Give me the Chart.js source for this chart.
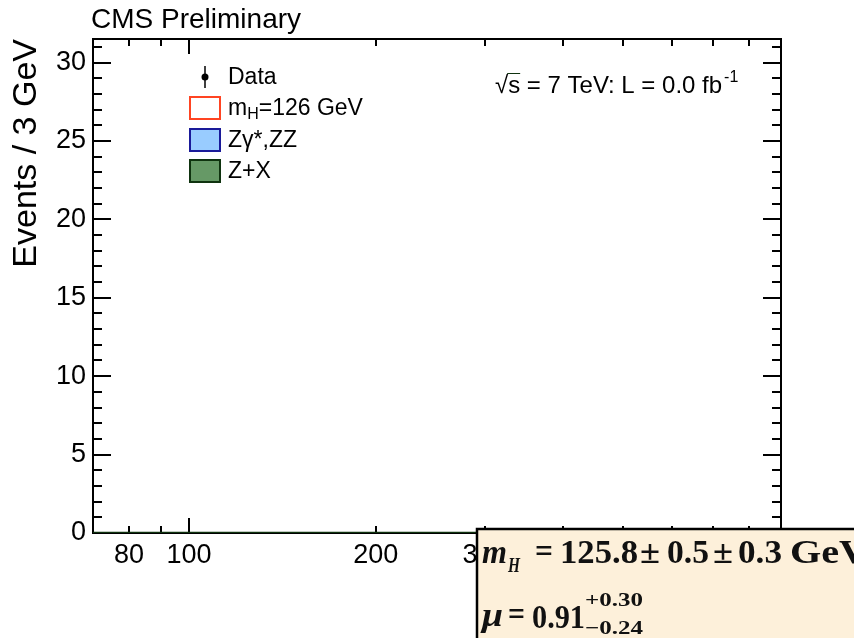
<!DOCTYPE html>
<html>
<head>
<meta charset="utf-8">
<script src="https://cdn.jsdelivr.net/npm/chart.js@4.4.1/dist/chart.umd.min.js"></script>
<style>
  html, body { margin: 0; padding: 0; background: #ffffff; }
  #wrap { width: 854px; height: 638px; }
</style>
</head>
<body>
<div id="wrap"><canvas id="chart" width="854" height="638"></canvas></div>
<script>
// m4l range and ticks (GeV)
const xRange = [70, 900];
const xTickValues = [80, 90, 100, 200, 300, 400, 500, 600, 700, 800, 900];
const xMajorTicks = [100];
const xLabelValues = [80, 100, 200, 300];

// Events / 3 GeV
const yRange = [0, 31.5];
const yTickValues = [0, 5, 10, 15, 20, 25, 30];

// series (L = 0.0 fb-1 -> no events anywhere)
const dataMass = [];
const dataEvents = [];
const signalMass = [];
const signalEvents = [];
const zzMass = [];
const zzEvents = [];
const zxMass = [70, 900];
const zxEvents = [0, 0];

const legendLabels = ['Data', 'm_H=126 GeV', 'Z\u03b3*,ZZ', 'Z+X'];

const SANS = '"Liberation Sans", Arial, sans-serif';
const SERIF = '"Liberation Serif", "Times New Roman", serif';

function toPoints(xs, ys) {
    return xs.map((x, i) => ({ x: x, y: ys[i] }));
}

// texte avec largeur imposee (le cadre du resultat est etire)
function fitText(ctx, text, x, y, width, font) {
    ctx.save();
    ctx.font = font;
    const w = ctx.measureText(text).width;
    ctx.translate(x, y);
    ctx.scale(width / w, 1);
    ctx.fillText(text, 0, 0);
    ctx.restore();
}

// cadre, ticks internes, legende et textes
const cmsPlugin = {
    id: 'cmsPlugin',
    beforeDatasetsDraw(chart) {
        const ctx = chart.ctx;
        const a = chart.chartArea;
        const xs = chart.scales.x;
        const ys = chart.scales.y;
        ctx.save();
        ctx.strokeStyle = '#000000';
        ctx.lineWidth = 2;
        ctx.strokeRect(a.left, a.top, a.right - a.left, a.bottom - a.top);

        // y ticks (gauche et droite)
        for (let v = 0; v <= 31; v++) {
            const py = Math.round(ys.getPixelForValue(v));
            const len = v % 5 === 0 ? 18 : 9;
            ctx.beginPath();
            ctx.moveTo(a.left, py);
            ctx.lineTo(a.left + len, py);
            ctx.moveTo(a.right, py);
            ctx.lineTo(a.right - len, py);
            ctx.stroke();
        }
        // x ticks (bas et haut)
        xTickValues.forEach(v => {
            const px = Math.round(xs.getPixelForValue(v));
            const len = xMajorTicks.includes(v) ? 15 : 7;
            ctx.beginPath();
            ctx.moveTo(px, a.bottom);
            ctx.lineTo(px, a.bottom - len);
            ctx.moveTo(px, a.top);
            ctx.lineTo(px, a.top + len);
            ctx.stroke();
        });
        ctx.restore();
    },
    afterDraw(chart) {
        const ctx = chart.ctx;
        ctx.save();
        ctx.fillStyle = '#000000';
        ctx.textBaseline = 'alphabetic';

        // titre
        ctx.font = '28px ' + SANS;
        ctx.fillText('CMS Preliminary', 91, 28);

        // legende
        const lx = 190, rowY = [77, 108, 140, 171];
        ctx.font = '23px ' + SANS;
        ctx.textBaseline = 'middle';
        // Data
        ctx.strokeStyle = '#000000';
        ctx.lineWidth = 1.5;
        ctx.beginPath();
        ctx.moveTo(lx + 15, rowY[0] - 11);
        ctx.lineTo(lx + 15, rowY[0] + 11);
        ctx.stroke();
        ctx.beginPath();
        ctx.arc(lx + 15, rowY[0], 3.5, 0, Math.PI * 2);
        ctx.fill();
        ctx.fillText(legendLabels[0], 228, rowY[0] + 1);

        const boxes = [
            { fill: '#ffffff', stroke: '#ff4422' },
            { fill: '#99ccff', stroke: '#1a1a99' },
            { fill: '#669966', stroke: '#0f330f' }
        ];
        boxes.forEach((b, i) => {
            const cy = rowY[i + 1];
            ctx.fillStyle = b.fill;
            ctx.strokeStyle = b.stroke;
            ctx.lineWidth = 2;
            ctx.fillRect(lx, cy - 11, 30, 22);
            ctx.strokeRect(lx, cy - 11, 30, 22);
        });
        ctx.fillStyle = '#000000';
        // m_H=126 GeV avec indice
        ctx.fillText('m', 228, rowY[1] + 1);
        let mx = 228 + ctx.measureText('m').width;
        ctx.font = '16px ' + SANS;
        ctx.fillText('H', mx, rowY[1] + 7);
        mx += ctx.measureText('H').width;
        ctx.font = '23px ' + SANS;
        ctx.fillText('=126 GeV', mx, rowY[1] + 1);
        ctx.fillText(legendLabels[2], 228, rowY[2] + 1);
        ctx.fillText(legendLabels[3], 228, rowY[3] + 1);

        // sqrt(s) = 7 TeV: L = 0.0 fb-1
        ctx.textBaseline = 'alphabetic';
        ctx.font = '24px ' + SANS;
        const sx = 495, sy = 93;
        ctx.fillText('\u221a', sx, sy);
        const sw = ctx.measureText('\u221a').width;
        ctx.fillText('s', sx + sw, sy);
        const ssw = ctx.measureText('s').width;
        ctx.lineWidth = 1;
        ctx.beginPath();
        ctx.moveTo(sx + sw - 1, sy - 19.5);
        ctx.lineTo(sx + sw + ssw, sy - 19.5);
        ctx.stroke();
        const rest = ' = 7 TeV: L = 0.0 fb';
        ctx.fillText(rest, sx + sw + ssw, sy);
        const ex = sx + sw + ssw + ctx.measureText(rest).width + 2;
        ctx.font = '16px ' + SANS;
        ctx.fillText('-1', ex, sy - 11);

        // cadre du resultat
        const bx = 477, by = 529;
        ctx.fillStyle = '#fdf0da';
        ctx.fillRect(bx, by, 854 - bx, 638 - by);
        ctx.strokeStyle = '#000000';
        ctx.lineWidth = 2.5;
        ctx.beginPath();
        ctx.moveTo(854, by);
        ctx.lineTo(bx, by);
        ctx.lineTo(bx, 638);
        ctx.stroke();

        ctx.fillStyle = '#111111';
        const big = 'bold 34px ' + SERIF;
        const bigIt = 'italic bold 34px ' + SERIF;
        const small = 'bold 19px ' + SERIF;
        const y1 = 563, y2 = 628;
        fitText(ctx, 'm', 482, y1, 25, bigIt);
        fitText(ctx, 'H', 508, y1 + 9, 12, 'italic bold 20px ' + SERIF);
        fitText(ctx, '=', 535, y1 - 1, 18, big);
        fitText(ctx, '125.8', 560, y1, 78, big);
        fitText(ctx, '\u00b1', 640, y1, 20, big);
        fitText(ctx, '0.5', 667, y1, 42, big);
        fitText(ctx, '\u00b1', 713, y1, 20, big);
        fitText(ctx, '0.3', 738, y1, 44, big);
        fitText(ctx, 'GeV', 790, y1, 78, big);

        fitText(ctx, '\u03bc', 482, y2 - 2, 21, bigIt);
        fitText(ctx, '=', 508, y2 - 3, 17, big);
        fitText(ctx, '0.91', 532, y2, 53, big);
        fitText(ctx, '+0.30', 585, 606, 58, small);
        fitText(ctx, '\u22120.24', 585, 634, 58, small);
        ctx.restore();
    }
};

const ctx = document.getElementById('chart').getContext('2d');
const chart = new Chart(ctx, {
    type: 'line',
    data: {
        datasets: [
            {
                label: legendLabels[0],
                data: toPoints(dataMass, dataEvents),
                showLine: false,
                pointRadius: 3.5,
                backgroundColor: '#000000'
            },
            {
                label: legendLabels[1],
                data: toPoints(signalMass, signalEvents),
                borderColor: '#ff4422',
                pointRadius: 0,
                stepped: true
            },
            {
                label: legendLabels[2],
                data: toPoints(zzMass, zzEvents),
                borderColor: '#1a1a99',
                backgroundColor: '#99ccff',
                fill: 'origin',
                pointRadius: 0,
                stepped: true
            },
            {
                label: legendLabels[3],
                data: toPoints(zxMass, zxEvents),
                borderColor: '#0f330f',
                backgroundColor: '#669966',
                borderWidth: 2.5,
                pointRadius: 0,
                stepped: true
            }
        ]
    },
    options: {
        responsive: false,
        animation: false,
        layout: { padding: { left: 0, top: 39, right: 73, bottom: 0 } },
        plugins: {
            legend: { display: false },
            title: { display: false },
            tooltip: { enabled: false }
        },
        scales: {
            x: {
                type: 'logarithmic',
                min: xRange[0],
                max: xRange[1],
                afterBuildTicks: scale => {
                    scale.ticks = xTickValues.map(v => ({ value: v }));
                },
                afterFit: scale => { scale.height = 105; },
                grid: { display: false, drawTicks: false },
                border: { display: false },
                ticks: {
                    autoSkip: false,
                    maxRotation: 0,
                    padding: 6,
                    color: '#000000',
                    font: { family: SANS, size: 27 },
                    callback: value => xLabelValues.includes(value) ? String(value) : ''
                }
            },
            y: {
                min: yRange[0],
                max: yRange[1],
                afterBuildTicks: scale => {
                    scale.ticks = yTickValues.map(v => ({ value: v }));
                },
                afterFit: scale => { scale.width = 93; },
                grid: { display: false, drawTicks: false },
                border: { display: false },
                ticks: {
                    padding: 7,
                    color: '#000000',
                    font: { family: SANS, size: 27 }
                },
                title: {
                    display: true,
                    text: 'Events / 3 GeV',
                    align: 'end',
                    color: '#000000',
                    font: { family: SANS, size: 34 },
                    padding: { top: 6, bottom: 0 }
                }
            }
        }
    },
    plugins: [cmsPlugin]
});
</script>
</body>
</html>
